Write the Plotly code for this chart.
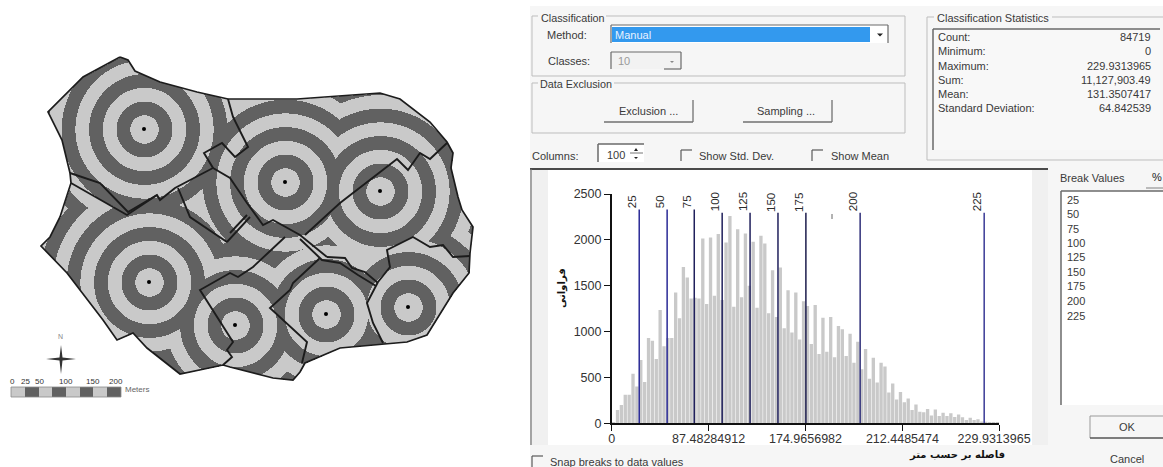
import numpy as np
import plotly.graph_objects as go

# ---------- histogram data (100 columns) ----------
column_counts = [10,145,200,310,310,540,400,690,450,930,
                 900,700,1235,840,930,930,1425,1145,1705,1590,
                 1360,1370,1360,2015,1300,2025,1390,2065,1345,1970,
                 2260,1270,2115,1375,2070,1500,1980,1260,2045,1960,
                 1200,1670,1160,1700,1035,1450,990,1425,915,1330,
                 1280,865,1290,755,1150,780,1160,720,1060,1025,
                 735,975,660,890,590,810,485,715,445,660,
                 620,335,435,260,340,230,270,145,205,125,
                 120,155,85,150,80,115,80,110,70,95,
                 65,35,60,35,45,20,18,15,10,6]
column_index = list(range(100))
break_values = [25,50,75,100,125,150,175,200,225]
break_columns = [7.1,14.3,21.3,28.5,35.7,42.9,50.1,64.1,96.1]
break_tops = [2330,2330,2330,2295,2295,2295,2295,2295,2295]
break_colors = ["#2a2a96","#2a2a96","#20205c","#20205c","#20205c","#20205c","#1c1c4c","#30307a","#3a3a96"]
x_tick_columns = [0,25,50,75,100]
x_tick_labels = ["0","87.48284912","174.9656982","212.4485474","229.9313965\u00a0\u00a0\u00a0"]
y_ticks = [0,500,1000,1500,2000,2500]

# ---------- statistics panel ----------
stat_names = ["Count:","Minimum:","Maximum:","Sum:","Mean:","Standard Deviation:"]
stat_values = ["84719","0","229.9313965","11,127,903.49","131.3507417","64.842539"]

# ---------- map data ----------
well_x = [144,149,235,285,380,326,408]
well_y = [129,282,325,182,191,314,307]
ring_width = 13.7
first_ring_extra = 0.6

outer_x = [120,128,135,160,197,228,297,380,400,430,447,453,451,458,462,473,470,469,453,427,407,382,340,305,300,293,273,230,223,180,147,133,117,103,67,41,50,60,71,70,62,48,60,83]
outer_y = [57,60,71,82,92,99,99,93,99,122,142,153,168,197,210,227,253,273,293,335,342,344,348,363,372,380,378,367,365,374,348,333,340,320,273,246,237,217,183,173,140,112,100,77]

border_a_x = [70,100,128,157,160,175,213,204,222,235,248,233,228]
border_a_y = [173,183,212,195,200,188,168,153,143,157,147,117,99]
border_b_x = [71,127,157]
border_b_y = [183,215,195]
border_c_x = [178,190,227,250]
border_c_y = [188,217,242,217]
border_d_x = [213,230,247,263,273,300,327]
border_d_y = [168,178,203,225,220,235,257]
border_e_x = [285,253,238,230,200,227,233,227,232,223]
border_e_y = [237,267,277,273,290,333,342,350,357,365]
border_f_x = [305,340,397,408,420,430,447]
border_f_y = [235,203,159,170,153,159,143]
border_g_x = [320,293,290,270,307,302]
border_g_y = [258,283,290,308,342,363]
border_h_x = [378,367,373,383]
border_h_y = [282,303,323,343]
border_i_x = [378,390,387,413,430,443,453,470]
border_i_y = [282,267,250,237,247,245,257,256]
border_j_x = [247,230]
border_j_y = [215,233]
border_k_x = [327,345,352,365,378]
border_k_y = [257,258,268,272,283]
border_l_x = [300,322,340,358,376]
border_l_y = [239,260,263,275,286]
map_borders = [(border_a_x,border_a_y),(border_b_x,border_b_y),(border_c_x,border_c_y),
               (border_d_x,border_d_y),(border_e_x,border_e_y),(border_f_x,border_f_y),
               (border_g_x,border_g_y),(border_h_x,border_h_y),(border_i_x,border_i_y),
               (border_j_x,border_j_y),(border_k_x,border_k_y),(border_l_x,border_l_y)]

scale_labels = ["0","25","50","100","150","200"]
scale_label_x = [12,25,39,66,93,116]

# ---------- colours ----------
RING_LIGHT = "#c9c9c9"
RING_DARK = "#616161"
DIALOG = "#f6f6f6"
TXT = "#3a3a3a"
FONT = "Liberation Sans"

# ---------- raster of distance rings ----------
gx = np.arange(35, 480, 1.0)
gy = np.arange(50, 390, 1.0)
GX, GY = np.meshgrid(gx, gy)
dist = np.min([np.hypot(GX - a, GY - b) for a, b in zip(well_x, well_y)], axis=0)
bands = np.floor((dist - first_ring_extra) / ring_width) % 2

def inside(px, py, qx, qy):
    res = np.zeros(qx.shape, dtype=bool)
    n = len(px)
    for i in range(n):
        x1, y1, x2, y2 = px[i], py[i], px[(i + 1) % n], py[(i + 1) % n]
        if y1 == y2:
            continue
        cond = (y1 > qy) != (y2 > qy)
        xint = x1 + (qy - y1) * (x2 - x1) / (y2 - y1)
        res ^= cond & (qx < xint)
    return res

z = bands.astype(float)
z[~inside(outer_x, outer_y, GX, GY)] = np.nan

fig = go.Figure()

fig.add_trace(go.Heatmap(x=gx, y=gy, z=z, xaxis="x", yaxis="y", showscale=False, zmin=0, zmax=1,
                         colorscale=[[0, RING_LIGHT], [1, RING_DARK]], hoverinfo="skip"))
fig.add_trace(go.Scatter(x=outer_x + outer_x[:1], y=outer_y + outer_y[:1], mode="lines", xaxis="x", yaxis="y",
                         line=dict(color="#1c1c1c", width=1.7), hoverinfo="skip", showlegend=False))
for bx, by in map_borders:
    fig.add_trace(go.Scatter(x=bx, y=by, mode="lines", xaxis="x", yaxis="y",
                             line=dict(color="#1c1c1c", width=1.9), hoverinfo="skip", showlegend=False))
fig.add_trace(go.Scatter(x=well_x, y=well_y, mode="markers", xaxis="x", yaxis="y",
                         marker=dict(color="#000000", size=4), hoverinfo="skip", showlegend=False))

# histogram
fig.add_trace(go.Bar(x=[c + 0.5 for c in column_index], y=column_counts, xaxis="x2", yaxis="y2",
                     marker=dict(color="#c9c9c9", line=dict(width=0)), width=0.86, showlegend=False))
for c, t, col in zip(break_columns, break_tops, break_colors):
    fig.add_trace(go.Scatter(x=[c, c], y=[0, t], mode="lines", xaxis="x2", yaxis="y2",
                             line=dict(color=col, width=1.5), hoverinfo="skip", showlegend=False))

shapes, notes = [], []

def rect(x0, y0, x1, y1, fill="rgba(0,0,0,0)", line=None, w=1):
    shapes.append(dict(type="rect", xref="x", yref="y", x0=x0, y0=y0, x1=x1, y1=y1, layer="below",
                       fillcolor=fill, line=dict(color=line or "rgba(0,0,0,0)", width=w if line else 0)))

def seg(x0, y0, x1, y1, c="#555555", w=1, layer="below"):
    shapes.append(dict(type="line", xref="x", yref="y", x0=x0, y0=y0, x1=x1, y1=y1, layer=layer,
                       line=dict(color=c, width=w)))

def txt(x, y, s, size=11, color=TXT, anchor="left", angle=0, bg=None, font=FONT):
    notes.append(dict(xref="x", yref="y", x=x, y=y, text=s, showarrow=False, xanchor=anchor, yanchor="middle",
                      textangle=angle, bgcolor=bg, font=dict(family=font, size=size, color=color), borderpad=0))

def tri(cx, cy, s=3, c="#222222"):
    shapes.append(dict(type="path", xref="x", yref="y", layer="below", fillcolor=c, line=dict(width=0),
                       path=f"M {cx-s} {cy-s/2} L {cx+s} {cy-s/2} L {cx} {cy+s/2} Z"))

def sunken(x0, y0, x1, y1, fill="#ffffff"):
    rect(x0, y0, x1, y1, fill=fill)
    seg(x0, y0, x1, y0, "#6a6a6a", 1.5)
    seg(x0, y0, x0, y1, "#6a6a6a", 1.5)

def button(x0, y0, x1, y1):
    seg(x1, y0, x1, y1, "#707070", 1.3)
    seg(x0, y1, x1, y1, "#707070", 1.5)

def check(x0, y0, size=11):
    seg(x0, y0, x0 + size, y0, "#5a5a5a", 1.2)
    seg(x0, y0, x0, y0 + size, "#5a5a5a", 1.2)

# dialog backdrop
rect(530, 6, 1163, 467, fill=DIALOG)

# classification group
rect(532, 16, 905, 76, line="#bdbdbd")
rect(538, 12, 606, 24, fill=DIALOG)
txt(540, 18, "Classification", size=10.8)
txt(546, 35, "Method:")
rect(611, 25, 888, 43, fill="#ffffff")
seg(611, 25, 888, 25, "#6a6a6a", 1.2)
seg(888, 25, 888, 43, "#6a6a6a", 1.2)
seg(611, 25, 611, 43, "#6a6a6a", 1.2)
rect(612, 27, 870, 42, fill="#3399ee")
txt(614, 35, "Manual", color="#e8f2ff")
tri(880, 35)
txt(547, 61, "Classes:")
rect(611, 52, 681, 69, fill="#f2f2f2")
seg(611, 52, 681, 52, "#6a6a6a", 1.2)
seg(611, 52, 611, 69, "#6a6a6a", 1.2)
seg(681, 52, 681, 69, "#6a6a6a", 1.2)
seg(664, 69, 681, 69, "#6a6a6a", 1.2)
txt(617, 61, "10", color="#9a9a9a")
tri(672, 62, 2, "#888888")

# data exclusion group
rect(532, 83, 905, 133, line="#bdbdbd")
rect(538, 78, 614, 90, fill=DIALOG)
txt(539, 84, "Data Exclusion", size=10.8)
button(604, 100, 693, 122)
txt(648, 111, "Exclusion ...", anchor="center")
button(743, 100, 832, 122)
txt(786, 111, "Sampling ...", anchor="center")

txt(531, 156, "Columns:")
sunken(598, 144, 644, 162)
txt(606, 155, "100")
seg(630, 153, 643, 153, "#777777", 1)
tri(636, 158, 2)
shapes.append(dict(type="path", xref="x", yref="y", layer="below", fillcolor="#222222", line=dict(width=0),
                   path="M 634 151 L 638 151 L 636 148 Z"))
check(681, 150)
txt(698, 156, "Show Std. Dev.")
check(812, 150)
txt(830, 156, "Show Mean")

# statistics group
rect(927, 17, 1170, 160, line="#bdbdbd")
rect(934, 12, 1052, 24, fill=DIALOG)
txt(936, 18, "Classification Statistics")
sunken(933, 29, 1160, 150, fill="#f8f8f8")
for yy, nm, vv in zip([37, 51, 66, 80, 94, 108], stat_names, stat_values):
    txt(937, yy, nm)
    txt(1152, yy, vv, anchor="right")

# histogram panel
rect(532, 169, 1048, 445, fill="#f0f0f0")
rect(548, 170, 1032, 445, fill="#ffffff")
seg(530, 169, 1048, 169, "#4a4a4a", 2)
seg(531, 169, 531, 445, "#777777", 1.3)
seg(832, 214, 832, 219, "#666666", 1)

# break labels
for v, c in zip(break_values, break_columns):
    px = 611.7 + c * 3.876
    txt(px - 7, 202, str(v), size=11.5, color="#2a2a2a", anchor="center", angle=-90)

txt(562, 288, "<b>فراوانی</b>", size=10, color="#111111", anchor="center", angle=-90, font="DejaVu Sans")
txt(957, 455, "<b>فاصله بر حسب متر</b>", size=10, color="#111111", anchor="center", font="DejaVu Sans")

# snap
check(532, 456)
txt(549, 462, "Snap breaks to data values")

# break values list
txt(1059, 178, "Break Values")
txt(1151, 177, "%", color="#222222")
seg(1146, 188, 1163, 188, "#808080", 1)
sunken(1061, 191, 1170, 405)
for yy, v in zip([200, 214, 229, 243, 257, 272, 286, 301, 316], break_values):
    txt(1066, yy, str(v))
seg(1090, 416, 1090, 438, "#9a9a9a", 1)
seg(1090, 416, 1163, 416, "#9a9a9a", 1)
seg(1090, 438, 1163, 438, "#555555", 1.5)
txt(1127, 427, "OK", anchor="center")
txt(1127, 459, "Cancel", anchor="center")

# north arrow (four-point star)
shapes.append(dict(type="path", xref="x", yref="y", layer="below", fillcolor="#333333", line=dict(width=0),
                   path="M 61 345 L 62.5 357.5 L 76 359 L 62.5 360.5 L 61 374 L 59.5 360.5 L 46 359 L 59.5 357.5 Z"))
txt(60, 336, "N", size=7, color="#888888", anchor="center")

# scale bar
scale_edges = [11, 25, 39, 52, 66, 80, 93, 107, 121]
for i in range(8):
    rect(scale_edges[i], 387, scale_edges[i + 1], 397, fill=RING_LIGHT if i % 2 == 0 else RING_DARK)
rect(11, 387, 121, 397, line="#8a8a8a", w=0.8)
for sx, lb in zip(scale_label_x, scale_labels):
    txt(sx, 381, lb, size=8, color="#333333", anchor="center")
txt(124, 389, "Meters", size=8, color="#666666")

fig.update_layout(
    template="none",
    width=1163, height=467, margin=dict(l=0, r=0, t=0, b=0, pad=0), autosize=False,
    paper_bgcolor="#ffffff", plot_bgcolor="rgba(0,0,0,0)", showlegend=False, barmode="overlay",
    shapes=shapes, annotations=notes,
    xaxis=dict(domain=[0, 1], range=[0, 1163], visible=False, fixedrange=True, automargin=False),
    yaxis=dict(domain=[0, 1], range=[467, 0], visible=False, fixedrange=True, automargin=False),
    xaxis2=dict(domain=[611.7 / 1163, 999.3 / 1163], range=[0, 100], anchor="y2", showgrid=False, zeroline=False,
                showline=True, linecolor="#111111", linewidth=1.5, ticks="outside", ticklen=6, tickcolor="#111111",
                tickvals=x_tick_columns, ticktext=x_tick_labels, tickangle=0, automargin=False,
                ticklabelstandoff=-3,
                tickfont=dict(family=FONT, size=12.5, color="#333333"), fixedrange=True),
    yaxis2=dict(domain=[(467 - 423.3) / 467, (467 - 194) / 467], range=[0, 2500], anchor="x2", showgrid=False,
                zeroline=False, showline=True, linecolor="#111111", linewidth=1.5, ticks="outside", ticklen=6,
                tickcolor="#111111", tickvals=y_ticks, tickfont=dict(family=FONT, size=12.5, color="#333333"),
                fixedrange=True, automargin=False),
)

fig.write_html("out.html", post_script="document.body.style.margin='0';document.body.style.overflow='hidden';",
               config=dict(displayModeBar=False))
